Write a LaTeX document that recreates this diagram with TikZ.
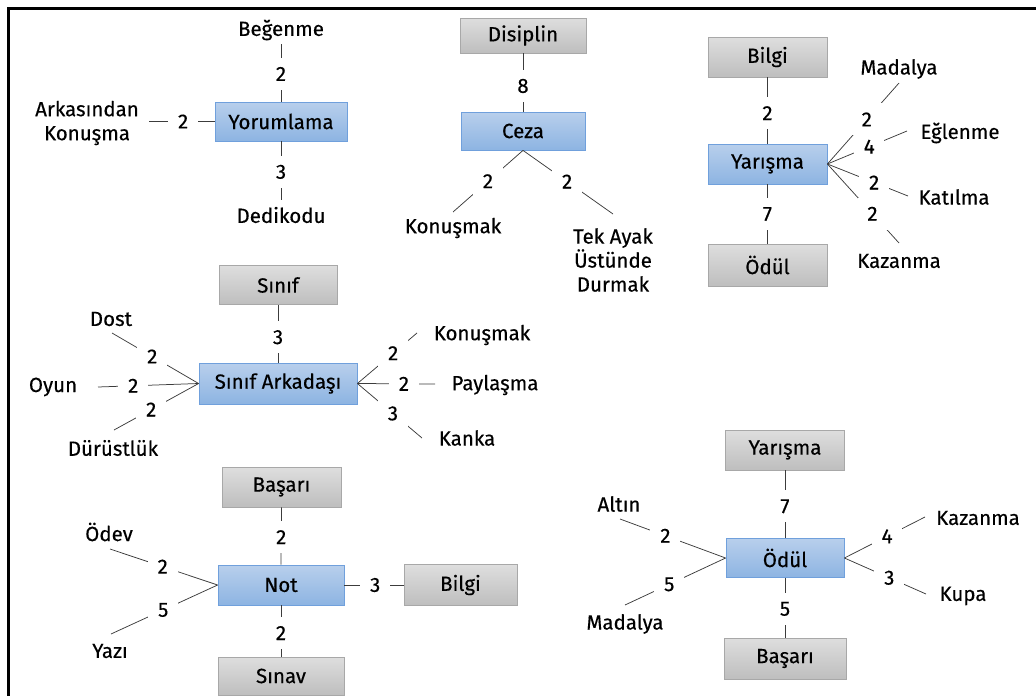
\documentclass[tikz,border=0pt]{standalone}
\usepackage{fontspec}
\setmainfont{Fira Sans}[UprightFeatures={FakeBold=0.35}]
\definecolor{bluetop}{RGB}{184,207,236}
\definecolor{bluebot}{RGB}{141,180,226}
\definecolor{bluebd}{RGB}{112,160,220}
\definecolor{graytop}{RGB}{222,222,222}
\definecolor{graybot}{RGB}{190,190,190}
\definecolor{graybd}{RGB}{168,168,168}
\definecolor{linecol}{RGB}{60,60,60}
\begin{document}
\begin{tikzpicture}[x=1pt,y=-1pt,
  fnt/.style={font=\fontsize{20.5}{24}\selectfont},
  bbox/.style={fnt, draw=bluebd, line width=0.8pt, top color=bluetop, bottom color=bluebot, inner sep=0pt},
  gbox/.style={fnt, draw=graybd, line width=0.8pt, top color=graytop, bottom color=graybot, inner sep=0pt},
  word/.style={fnt, inner sep=0pt, align=center},
  num/.style={fnt, fill=white, inner sep=0pt, minimum width=30pt, minimum height=32pt},
  ln/.style={draw=linecol, line width=0.75pt}]
\useasboundingbox (0,0) rectangle (1036,696);
\draw[line width=2.5pt] (8.5,696) -- (8.5,8.5) -- (1036,8.5);

% ---------- Group 1: Yorumlama
\node[bbox, minimum width=132pt, minimum height=39pt] (yor) at (281,121.5) {Yorumlama};
\node[word] (beg) at (281,30) {Beğenme};
\node[word] (ark) at (87,123) {Arkasından\\Konuşma};
\node[word] (ded) at (281,215) {Dedikodu};
\coordinate (e-beg) at (281,44);
\coordinate (e-ark) at (149,121.5);
\coordinate (e-ded) at (281,200);
\draw[ln] (yor.north) -- coordinate[pos=0.48] (l-beg) (e-beg);
\draw[ln] (yor.west) -- coordinate[pos=0.48] (l-ark) (e-ark);
\draw[ln] (yor.south) -- coordinate[pos=0.52] (l-ded) (e-ded);

% ---------- Group 2: Ceza
\node[gbox, minimum width=126pt, minimum height=35pt] (dis) at (523,35.5) {Disiplin};
\node[bbox, minimum width=124pt, minimum height=38pt] (ceza) at (523,131) {Ceza};
\node[word] (kon1) at (453,228) {Konuşmak};
\node[word] (tek) at (613,260) {Tek Ayak\\Üstünde\\Durmak};
\coordinate (e-kon1) at (453,212);
\coordinate (e-tek) at (613,214);
\draw[ln] (ceza.north) -- coordinate[pos=0.44] (l-dis) (dis.south);
\draw[ln] (ceza.south) -- coordinate[pos=0.5] (l-kon1) (e-kon1);
\draw[ln] (ceza.south) -- coordinate[pos=0.49] (l-tek) (e-tek);

% ---------- Group 3: Yarisma
\node[gbox, minimum width=119pt, minimum height=40pt] (bil1) at (767.5,57) {Bilgi};
\node[bbox, minimum width=119pt, minimum height=40pt] (yar1) at (767.5,164) {Yarışma};
\node[gbox, minimum width=119pt, minimum height=42pt] (odul1) at (767.5,265) {Ödül};
\node[word] (mad1) at (899,69) {Madalya};
\node[word] (egl) at (960,133) {Eğlenme};
\node[word] (kat) at (954,197) {Katılma};
\node[word] (kaz1) at (899,261) {Kazanma};
\coordinate (e-mad1) at (899,83);
\coordinate (e-egl) at (907,131);
\coordinate (e-kat) at (908,196);
\coordinate (e-kaz1) at (899,243);
\draw[ln] (bil1.south) -- coordinate[pos=0.54] (l-bil1) (yar1.north);
\draw[ln] (yar1.south) -- coordinate[pos=0.5] (l-odul1) (odul1.north);
\draw[ln] (yar1.east) -- coordinate[pos=0.55] (l-mad1) (e-mad1);
\draw[ln] (yar1.east) -- coordinate[pos=0.525] (l-egl) (e-egl);
\draw[ln] (yar1.east) -- coordinate[pos=0.58] (l-kat) (e-kat);
\draw[ln] (yar1.east) -- coordinate[pos=0.63] (l-kaz1) (e-kaz1);

% ---------- Group 4: Sinif Arkadasi
\node[gbox, minimum width=118pt, minimum height=39pt] (sinif) at (278,285) {Sınıf};
\node[bbox, minimum width=158pt, minimum height=41pt] (sa) at (278,383.5) {Sınıf Arkadaşı};
\node[word] (dost) at (111,319) {Dost};
\node[word] (oyun) at (53,387) {Oyun};
\node[word] (dur) at (113,448) {Dürüstlük};
\node[word] (kon2) at (482,335) {Konuşmak};
\node[word] (pay) at (495,385) {Paylaşma};
\node[word] (kan) at (467,438) {Kanka};
\coordinate (e-dost) at (112,333);
\coordinate (e-oyun) at (98,387);
\coordinate (e-dur) at (114,430);
\coordinate (e-kon2) at (417,333);
\coordinate (e-pay) at (435,384);
\coordinate (e-kan) at (422,438);
\draw[ln] (sa.north) -- coordinate[pos=0.44] (l-sinif) (sinif.south);
\draw[ln] (sa.west) -- coordinate[pos=0.535] (l-dost) (e-dost);
\draw[ln] (sa.west) -- coordinate[pos=0.65] (l-oyun) (e-oyun);
\draw[ln] (sa.west) -- coordinate[pos=0.56] (l-dur) (e-dur);
\draw[ln] (sa.east) -- coordinate[pos=0.6] (l-kon2) (e-kon2);
\draw[ln] (sa.east) -- coordinate[pos=0.6] (l-pay) (e-pay);
\draw[ln] (sa.east) -- coordinate[pos=0.55] (l-kan) (e-kan);

% ---------- Group 5: Not
\node[gbox, minimum width=119pt, minimum height=40pt] (bas1) at (281.5,487) {Başarı};
\node[bbox, minimum width=126pt, minimum height=40pt] (not) at (281,585) {Not};
\node[gbox, minimum width=113pt, minimum height=41pt] (bil2) at (460.5,585) {Bilgi};
\node[gbox, minimum width=126pt, minimum height=38pt] (sinav) at (281,676) {Sınav};
\node[word] (odev) at (109,532) {Ödev};
\node[word] (yazi) at (110,651) {Yazı};
\coordinate (e-odev) at (110,549);
\coordinate (e-yazi) at (111,634);
\draw[ln] (not.north) -- coordinate[pos=0.48] (l-bas1) (bas1.south);
\draw[ln] (not.east) -- coordinate[pos=0.52] (l-bil2) (bil2.west);
\draw[ln] (not.south) -- coordinate[pos=0.54] (l-sinav) (sinav.north);
\draw[ln] (not.west) -- coordinate[pos=0.51] (l-odev) (e-odev);
\draw[ln] (not.west) -- coordinate[pos=0.51] (l-yazi) (e-yazi);

% ---------- Group 6: Odul
\node[gbox, minimum width=119pt, minimum height=40pt] (yar2) at (785,450) {Yarışma};
\node[bbox, minimum width=118pt, minimum height=39pt] (odul2) at (785,558) {Ödül};
\node[gbox, minimum width=122pt, minimum height=41pt] (bas2) at (785,658.5) {Başarı};
\node[word] (alt) at (619,504) {Altın};
\node[word] (mad2) at (625,624) {Madalya};
\node[word] (kaz2) at (978,518) {Kazanma};
\node[word] (kup) at (963,596) {Kupa};
\coordinate (e-alt) at (620,519);
\coordinate (e-mad2) at (625,605);
\coordinate (e-kaz2) at (925,517);
\coordinate (e-kup) at (926,594);
\draw[ln] (odul2.north) -- coordinate[pos=0.47] (l-yar2) (yar2.south);
\draw[ln] (odul2.south) -- coordinate[pos=0.52] (l-bas2) (bas2.north);
\draw[ln] (odul2.west) -- coordinate[pos=0.57] (l-alt) (e-alt);
\draw[ln] (odul2.west) -- coordinate[pos=0.56] (l-mad2) (e-mad2);
\draw[ln] (odul2.east) -- coordinate[pos=0.53] (l-kaz2) (e-kaz2);
\draw[ln] (odul2.east) -- coordinate[pos=0.55] (l-kup) (e-kup);

% ---------- number labels (drawn over the connectors)
\node[num] at (l-beg) {2};
\node[num] at (l-ark) {2};
\node[num] at (l-ded) {3};
\node[num] at (l-dis) {8};
\node[num] at (l-kon1) {2};
\node[num] at (l-tek) {2};
\node[num] at (l-bil1) {2};
\node[num] at (l-odul1) {7};
\node[num] at (l-mad1) {2};
\node[num] at (l-egl) {4};
\node[num] at (l-kat) {2};
\node[num] at (l-kaz1) {2};
\node[num] at (l-sinif) {3};
\node[num] at (l-dost) {2};
\node[num] at (l-oyun) {2};
\node[num] at (l-dur) {2};
\node[num] at (l-kon2) {2};
\node[num] at (l-pay) {2};
\node[num] at (l-kan) {3};
\node[num] at (l-bas1) {2};
\node[num] at (l-bil2) {3};
\node[num] at (l-sinav) {2};
\node[num] at (l-odev) {2};
\node[num] at (l-yazi) {5};
\node[num] at (l-yar2) {7};
\node[num] at (l-bas2) {5};
\node[num] at (l-alt) {2};
\node[num] at (l-mad2) {5};
\node[num] at (l-kaz2) {4};
\node[num] at (l-kup) {3};
\end{tikzpicture}
\end{document}
